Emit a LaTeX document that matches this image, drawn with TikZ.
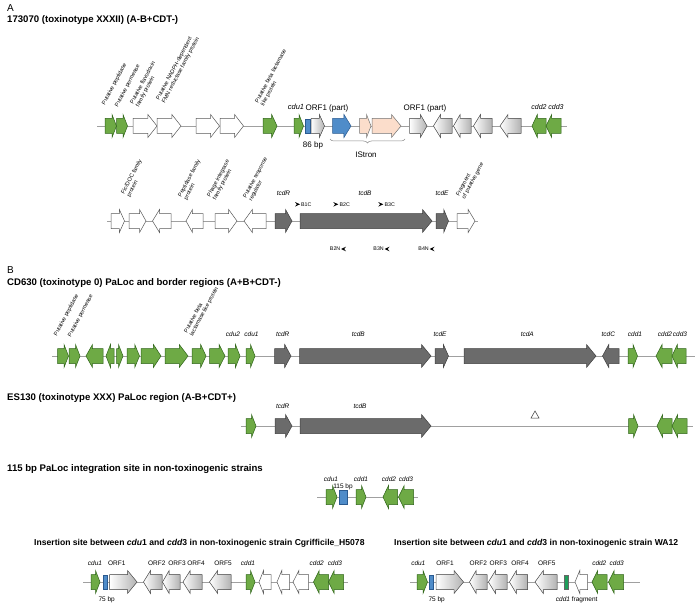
\documentclass[tikz,border=0pt]{standalone}
\usepackage{fontspec}
\setmainfont{Liberation Sans}
\usetikzlibrary{decorations.pathreplacing}
\definecolor{genegreen}{HTML}{6EAA45}
\definecolor{genegreenD}{HTML}{2E6418}
\definecolor{genedark}{HTML}{6B6B6B}
\definecolor{geneblue}{HTML}{4F8CC9}
\definecolor{geneblueD}{HTML}{2A5A90}
\definecolor{genepeach}{HTML}{FBDDCB}
\definecolor{genefrag}{HTML}{1E9E5A}
\definecolor{backbone}{HTML}{A0A0A0}
\newcommand{\gR}[4]{%
  \pgfmathsetmacro{\hl}{min(9.5,max(4.5,0.38*(#2-#1)))}%
  \filldraw[#4] (#1,#3-7.5) -- (#2-\hl,#3-7.5) -- (#2-\hl,#3-11.5) -- (#2,#3)
    -- (#2-\hl,#3+11.5) -- (#2-\hl,#3+7.5) -- (#1,#3+7.5) -- cycle;}
\newcommand{\gL}[4]{%
  \pgfmathsetmacro{\hl}{min(9.5,max(4.5,0.38*(#2-#1)))}%
  \filldraw[#4] (#2,#3-7.5) -- (#1+\hl,#3-7.5) -- (#1+\hl,#3-11.5) -- (#1,#3)
    -- (#1+\hl,#3+11.5) -- (#1+\hl,#3+7.5) -- (#2,#3+7.5) -- cycle;}
\newcommand{\gB}[4]{%
  \filldraw[#4] (#1,#3-7) rectangle (#2,#3+7);}
\newcommand{\pR}[2]{\fill (#1,#2-2.3) -- (#1+5,#2) -- (#1,#2+2.3) -- (#1+1.8,#2) -- cycle;}
\newcommand{\pL}[2]{\fill (#1+5,#2-2.3) -- (#1,#2) -- (#1+5,#2+2.3) -- (#1+3.2,#2) -- cycle;}
\tikzset{
  grn/.style={fill=genegreen, draw=genegreenD, line width=0.5pt},
  wht/.style={fill=white, draw=black!65, line width=0.5pt},
  drk/.style={fill=genedark, draw=black!75, line width=0.5pt},
  gry/.style={left color=white, right color=black!30, draw=black!65, line width=0.5pt},
  blu/.style={fill=geneblue, draw=geneblueD, line width=0.5pt},
  pch/.style={fill=genepeach, draw=black!55, line width=0.5pt},
  frg/.style={fill=genefrag, draw=black!60, line width=0.5pt},
  bb/.style={draw=backbone, line width=0.7pt},
  ttl/.style={font=\fontsize{9.6}{11}\selectfont\bfseries, anchor=west, inner sep=0},
  sttl/.style={font=\fontsize{8.6}{10}\selectfont\bfseries, inner sep=0},
  lett/.style={font=\fontsize{10}{11}\selectfont, anchor=west, inner sep=0},
  gi/.style={font=\fontsize{6.5}{7}\selectfont\itshape, inner sep=0},
  gt/.style={font=\fontsize{6.5}{7}\selectfont, inner sep=0},
  bt/.style={font=\fontsize{8}{9}\selectfont, inner sep=0},
  pt/.style={font=\fontsize{5.3}{6}\selectfont, inner sep=0},
  rl/.style={font=\fontsize{5.6}{6.4}\selectfont, rotate=62, anchor=south west, align=left, inner sep=0},
}
\begin{document}
\begin{tikzpicture}[x=1pt,y=-1pt]
\useasboundingbox[fill=white] (0,0) rectangle (696,607);
% ---------------- titles
\node[lett] (tA) at (7,8) {A};
\node[ttl] (t1) at (7,20) {173070 (toxinotype XXXII) (A-B+CDT-)};
\node[lett] (tB) at (7,270) {B};
\node[ttl] (t2) at (7,283) {CD630 (toxinotype 0) PaLoc and border regions (A+B+CDT-)};
\node[ttl] (t3) at (7,398) {ES130 (toxinotype XXX) PaLoc region (A-B+CDT+)};
\node[ttl] (t4) at (7,469) {115 bp PaLoc integration site in non-toxinogenic strains};
\node[sttl, anchor=west] (t5) at (34,543) {Insertion site between \textit{cdu}1 and \textit{cdd}3 in non-toxinogenic strain Cgrifficile\_H5078};
\node[sttl, anchor=west] (t6) at (394,543) {Insertion site between \textit{cdu}1 and \textit{cdd}3 in non-toxinogenic strain WA12};
% ---------------- backbones
\draw[bb] (97,126) -- (567,126);
\draw[bb] (107,221) -- (478,221);
\draw[bb] (52,356) -- (695,356);
\draw[bb] (241,426) -- (693,426);
\draw[bb] (317,497) -- (418,497);
\draw[bb] (83,582) -- (348,582);
\draw[bb] (410,582) -- (640,582);
% ---------------- A row 1
\gR{105}{116.5}{126}{grn}
\gR{116.5}{127.5}{126}{grn}
\gR{133}{157}{126}{wht}
\gR{157}{181}{126}{wht}
\gR{196}{219.5}{126}{wht}
\gR{220}{243.5}{126}{wht}
\gR{263}{277}{126}{grn}
\gR{294}{303.5}{126}{grn}
\gB{305.5}{310}{126}{blu}
\gR{311}{324.5}{126}{gry}
\gR{332.5}{351}{126}{blu}
\gR{359.5}{371}{126}{pch}
\gR{372}{401}{126}{pch}
\gR{409.5}{427}{126}{gry}
\gL{433.5}{452}{126}{gry}
\gL{453.5}{471}{126}{gry}
\gL{473.5}{492}{126}{gry}
\gL{500}{521}{126}{gry}
\gL{532}{546}{126}{grn}
\gL{546}{561}{126}{grn}
\node[rl] (r1) at (106,106) {Putative peptidase};
\node[rl] (r2) at (119,108) {Putative permease};
\node[rl] (r3) at (140,108) {Putative flavodoxin\\family protein};
\node[rl] (r4) at (166,104) {Putative NADPH-dependent\\FMN reductase family protein};
\node[rl] (r5) at (265,107) {Putative beta lactamase\\like protein};
\node[gi, font=\fontsize{7.5}{8}\selectfont\itshape] (a1) at (296,107) {cdu1};
\node[bt] (a2) at (327,108) {ORF1 (part)};
\node[bt] (a3) at (313,145) {86 bp};
\node[bt] (a4) at (425,108) {ORF1 (part)};
\node[bt] (a5) at (366,155) {IStron};
\node[gi, font=\fontsize{7}{8}\selectfont\itshape] (a6) at (539,107) {cdd2};
\node[gi, font=\fontsize{7}{8}\selectfont\itshape] (a7) at (556,107) {cdd3};
\coordinate (brL) at (330,139);
\coordinate (brR) at (405,139);
\draw[black!45, line width=0.5pt, decorate, decoration={brace, amplitude=4pt}] (brR) -- (brL);
% ---------------- A row 2
\gR{111}{124.5}{221}{wht}
\gR{129}{146}{221}{wht}
\gL{152.5}{171}{221}{wht}
\gL{186}{203}{221}{wht}
\gR{215}{237}{221}{wht}
\gL{244}{266}{221}{wht}
\gR{275}{292}{221}{drk}
\gR{300}{432}{221}{drk}
\gR{436}{448.5}{221}{drk}
\gR{457}{475}{221}{wht}
\node[rl] (r6) at (131,198) {Fic/DOC family\\protein};
\node[rl] (r7) at (188,201) {Peptidase family\\protein};
\node[rl] (r8) at (217,201) {Phage integrase\\family protein};
\node[rl] (r9) at (253,202) {Putative response\\regulator};
\node[rl] (r10) at (466,200) {Fragment\\of putative gene};
\node[gi] (b1) at (283.5,193) {tcdR};
\node[gi] (b2) at (365,193) {tcdB};
\node[gi] (b3) at (442,193) {tcdE};
\pR{295}{204.3} \node[pt, anchor=west] (p1) at (301,204.3) {B1C};
\pR{333.3}{204.3} \node[pt, anchor=west] (p2) at (339.5,204.3) {B2C};
\pR{378.3}{204.3} \node[pt, anchor=west] (p3) at (384.5,204.3) {B3C};
\node[pt, anchor=east] (p4) at (340.5,249) {B2N}; \pL{341}{249}
\node[pt, anchor=east] (p5) at (384,249) {B3N}; \pL{384.5}{249}
\node[pt, anchor=east] (p6) at (429,249) {B4N}; \pL{429.5}{249}
% ---------------- B CD630
\gR{57.5}{68.5}{356}{grn}
\gR{69}{80}{356}{grn}
\gL{86}{103}{356}{grn}
\gL{106}{114}{356}{grn}
\gR{116.5}{123}{356}{grn}
\gR{127}{139.5}{356}{grn}
\gR{141}{161}{356}{grn}
\gR{165}{188}{356}{grn}
\gR{192}{206}{356}{grn}
\gR{209.5}{225}{356}{grn}
\gR{228}{240}{356}{grn}
\gR{246}{255}{356}{grn}
\gR{274.5}{291}{356}{drk}
\gR{299.5}{431}{356}{drk}
\gR{435}{448.5}{356}{drk}
\gR{464}{596}{356}{drk}
\gL{602.5}{619}{356}{drk}
\gR{628}{637.5}{356}{grn}
\gL{656}{672}{356}{grn}
\gL{672}{686}{356}{grn}
\node[rl] (r11) at (58,337) {Putative peptidase};
\node[rl] (r12) at (72,338) {Putative permease};
\node[rl] (r13) at (194,337) {Putative beta\\lactamase like protein};
\node[gi] (c1) at (233,334) {cdu2};
\node[gi] (c2) at (251.5,334) {cdu1};
\node[gi] (c3) at (282.7,334) {tcdR};
\node[gi] (c4) at (358.3,334) {tcdB};
\node[gi] (c5) at (440,334) {tcdE};
\node[gi] (c6) at (527.3,334) {tcdA};
\node[gi] (c7) at (608.3,334) {tcdC};
\node[gi] (c8) at (635,334) {cdd1};
\node[gi] (c9) at (665,334) {cdd2};
\node[gi] (c10) at (680,334) {cdd3};
% ---------------- B ES130
\gR{246}{256}{426}{grn}
\gR{275}{292}{426}{drk}
\gR{300}{431}{426}{drk}
\gR{628.5}{638}{426}{grn}
\gL{657}{672}{426}{grn}
\gL{672}{687}{426}{grn}
\node[gi] (d1) at (282.7,405.7) {tcdR};
\node[gi] (d2) at (360,405.7) {tcdB};
\coordinate (tri) at (535,414.5);
\draw[black!80, line width=0.5pt] ([shift={(-4,3.5)}]tri) -- ([shift={(4,3.5)}]tri) -- ([shift={(0,-3.5)}]tri) -- cycle;
% ---------------- B 115 bp
\gR{326}{337}{497}{grn}
\gB{339.5}{347}{497}{blu}
\gR{356}{366}{497}{grn}
\gL{383}{397.5}{497}{grn}
\gL{398.5}{413.5}{497}{grn}
\node[gi] (e1) at (331,479) {cdu1};
\node[gi] (e2) at (361,479) {cdd1};
\node[gi] (e3) at (389,479) {cdd2};
\node[gi] (e4) at (406,479) {cdd3};
\node[gt, anchor=base] (e5) at (343,488.5) {115 bp};
% ---------------- bottom left
\gR{91}{100}{582}{grn}
\gB{103.5}{107}{582}{blu}
\gR{109.5}{137}{582}{gry}
\gL{143.5}{162}{582}{gry}
\gL{162.5}{180}{582}{gry}
\gL{183}{202}{582}{gry}
\gL{209.5}{231}{582}{gry}
\gR{246}{255}{582}{grn}
\gL{259}{271}{582}{wht}
\gL{277}{289.5}{582}{wht}
\gL{293}{308.5}{582}{wht}
\gL{313.5}{328.5}{582}{grn}
\gL{328.5}{343.5}{582}{grn}
\node[gi] (f1) at (95,563) {cdu1};
\node[gt] (f2) at (116.7,563) {ORF1};
\node[gt] (f3) at (156.7,563) {ORF2};
\node[gt] (f4) at (177,563) {ORF3};
\node[gt] (f5) at (196,563) {ORF4};
\node[gt] (f6) at (223,563) {ORF5};
\node[gi] (f7) at (248,563) {cdd1};
\node[gi] (f8) at (316.7,563) {cdd2};
\node[gi] (f9) at (335,563) {cdd3};
\node[gt] (f10) at (106.7,600) {75 bp};
% ---------------- bottom right
\gR{417}{427.5}{582}{grn}
\gB{429.5}{433.5}{582}{blu}
\gR{436}{463.5}{582}{gry}
\gL{469.5}{487}{582}{gry}
\gL{488.5}{507}{582}{gry}
\gL{509.5}{527.5}{582}{gry}
\gL{535}{557}{582}{gry}
\gB{564.5}{568.5}{582}{frg}
\gL{575}{587.5}{582}{wht}
\gL{592}{607}{582}{grn}
\gL{608.5}{623.5}{582}{grn}
\node[gi] (g1) at (418.3,563) {cdu1};
\node[gt] (g2) at (445,563) {ORF1};
\node[gt] (g3) at (478.3,563) {ORF2};
\node[gt] (g4) at (498.3,563) {ORF3};
\node[gt] (g5) at (520,563) {ORF4};
\node[gt] (g6) at (546.7,563) {ORF5};
\node[gi] (g7) at (599.3,563) {cdd2};
\node[gi] (g8) at (616.7,563) {cdd3};
\node[gt] (g9) at (436.7,600) {75 bp};
\node[gt] (g10) at (576.7,600) {\textit{cdd1} fragment};
\end{tikzpicture}
\end{document}
